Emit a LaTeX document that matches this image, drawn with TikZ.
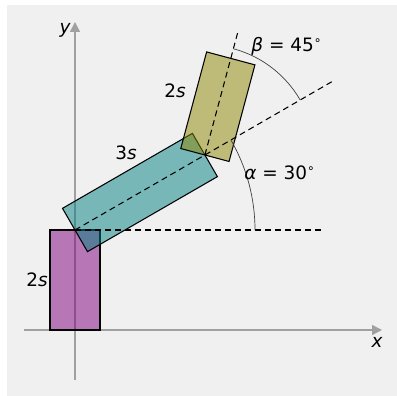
\documentclass[tikz,border=0pt]{standalone}
\usepackage{fontspec}
\setmainfont{DejaVu Sans}
\usetikzlibrary{arrows.meta, calc}
\definecolor{bgGray}{HTML}{F0F0F0}
\definecolor{axGray}{HTML}{A0A0A0}
\newcommand{\degsym}{\textsuperscript{\scriptsize ∘}}

\begin{document}
\begin{tikzpicture}[
  axis/.style={draw=axGray, line width=0.8pt, -{Triangle[length=0.2cm, width=0.2cm]}},
  link/.style={draw=black, line width=0.6pt, fill opacity=0.5},
  guide/.style={black, line width=0.6pt, dash pattern=on 3.4pt off 2.3pt},
  angarc/.style={draw=black!75, line width=0.4pt},
  lbl/.style={font=\fontsize{10.5}{12}\selectfont, inner sep=0pt},
]
  \fill[white] (-1.5,-1.32) rectangle (6.44,6.6);
  \fill[bgGray] (-1.36,-1.32) rectangle (6.44,6.5);
  \useasboundingbox (-1.5,-1.32) rectangle (6.44,6.6);

  \coordinate (xs) at (-1.02,0);
  \coordinate (xe) at (6.14,0);
  \coordinate (ys) at (0,-1.0);
  \coordinate (ye) at (0,6.16);
  \draw[axis] (xs) -- (xe);
  \draw[axis] (ys) -- (ye);
  \node[lbl] (xlbl) at (6.04,-0.24) {\itshape x};
  \node[lbl] (ylbl) at (-0.2,6.0) {\itshape y};

  \coordinate (J1) at (0,2);
  \coordinate (J2) at ($(J1)+(30:3)$);

  \draw[link, fill=violet] (-0.5,0) -- (0.5,0) -- (0.5,2) -- (-0.5,2) -- cycle;
  \begin{scope}[shift={(J1)}, rotate=30]
    \draw[link, fill=teal] (0,-0.5) -- (3,-0.5) -- (3,0.5) -- (0,0.5) -- cycle;
  \end{scope}
  \begin{scope}[shift={(J2)}, rotate=75]
    \draw[link, fill=olive] (0,-0.5) -- (2,-0.5) -- (2,0.5) -- (0,0.5) -- cycle;
  \end{scope}

  \coordinate (hEnd) at ($(J1)+(5,0)$);
  \coordinate (aEnd) at ($(J1)+(30:6)$);
  \coordinate (bEnd) at ($(J2)+(75:2.6)$);
  \draw[guide] (J1) -- (hEnd);
  \draw[guide] (J1) -- (aEnd);
  \draw[guide] (J2) -- (bEnd);

  \draw[angarc] ($(J1)+(3.6,0)$) arc[start angle=0, end angle=30, radius=3.6];
  \draw[angarc] ($(J2)+(30:2.2)$) arc[start angle=30, end angle=75, radius=2.2];

  \node[lbl] (alpha) at (4.1,3.14) {{\itshape α} = 30\degsym};
  \node[lbl] (beta) at (4.24,5.68) {{\itshape β} = 45\degsym};
  \node[lbl] (len1) at (-0.76,1.0) {2\textit{s}};
  \node[lbl] (len2) at (1.02,3.54) {3\textit{s}};
  \node[lbl] (len3) at (2.0,4.78) {2\textit{s}};
\end{tikzpicture}
\end{document}
